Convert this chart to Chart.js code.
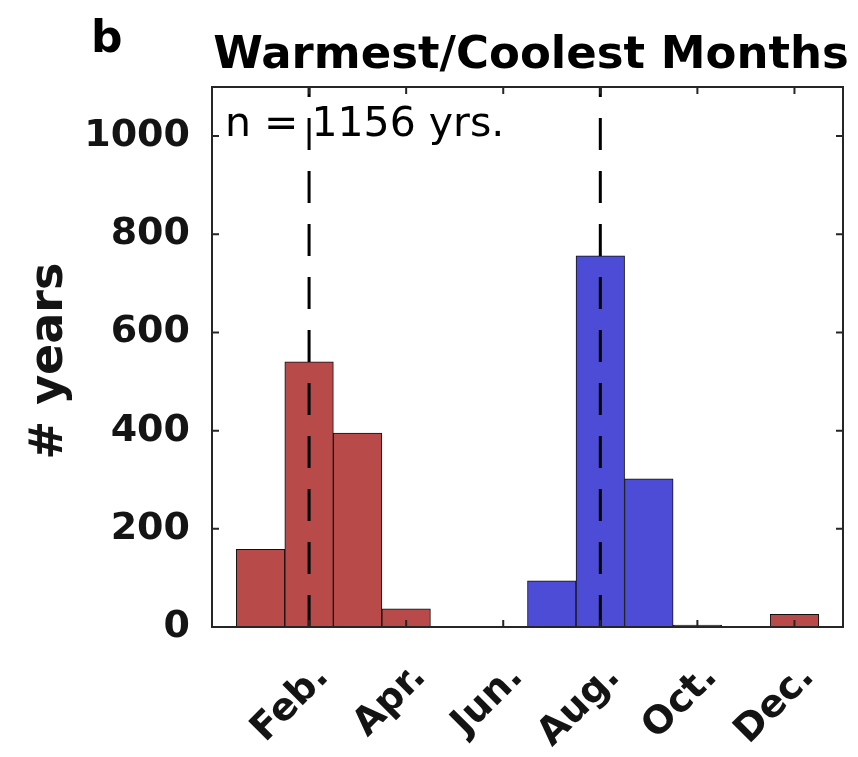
<!DOCTYPE html>
<html>
<head>
<meta charset="utf-8">
<script src="https://cdn.jsdelivr.net/npm/chart.js@4/dist/chart.umd.min.js"></script>
<style>
  html, body { margin: 0; padding: 0; background: #fff; }
  canvas { display: block; }
</style>
</head>
<body>
<canvas id="c" width="858" height="757"></canvas>
<script>
// month histogram: warmest months in red, coolest in blue
const months = ['Jan.', 'Feb.', 'Mar.', 'Apr.', 'May', 'Jun.', 'Jul.', 'Aug.', 'Sep.', 'Oct.', 'Nov.', 'Dec.'];
const warmest = [158, 540, 395, 37, 0, 0, 0, 0, 0, 0, 0, 26];
const coolest = [0, 0, 0, 0, 0, 0, 94, 756, 302, 4, 0, 0];
const xTicks = [2, 4, 6, 8, 10, 12];
const yTicks = [0, 200, 400, 600, 800, 1000];
const dashAt = [2, 8];      // mean warmest / coolest month
const yMax = 1100;
const nYears = 1156;

const FONT = '"DejaVu Sans", sans-serif';
const INK = '#141414';

function bars(vals) {
  return vals.map((v, i) => ({ x: i + 1, y: v === 0 ? null : v }));
}

function vline(m) {
  return {
    type: 'line', order: 1,
    data: [{ x: m, y: 0 }, { x: m, y: yMax }],
    borderColor: '#000', borderWidth: 3, borderDash: [32, 21],
    pointRadius: 0
  };
}

const frame = {
  id: 'frame',
  beforeDatasetsDraw(chart) {
    const ctx = chart.ctx;
    ctx.save();
    ctx.fillStyle = '#000';
    ctx.font = '41px ' + FONT;
    ctx.textAlign = 'left';
    ctx.textBaseline = 'alphabetic';
    ctx.fillText('n = ' + nYears + ' yrs.', 225, 136);
    ctx.restore();
  },
  afterDatasetsDraw(chart) {
    const ctx = chart.ctx;
    const { left, right, top, bottom } = chart.chartArea;
    const xs = chart.scales.x, ys = chart.scales.y;
    const tl = 7;
    ctx.save();
    ctx.strokeStyle = '#262626';
    ctx.lineWidth = 2;
    ctx.strokeRect(left, top, right - left, bottom - top);
    ctx.beginPath();
    xTicks.forEach(v => {
      const px = xs.getPixelForValue(v);
      ctx.moveTo(px, bottom); ctx.lineTo(px, bottom - tl);
      ctx.moveTo(px, top); ctx.lineTo(px, top + tl);
    });
    yTicks.forEach(v => {
      const py = ys.getPixelForValue(v);
      ctx.moveTo(left, py); ctx.lineTo(left + tl, py);
      ctx.moveTo(right, py); ctx.lineTo(right - tl, py);
    });
    ctx.stroke();
    ctx.restore();
  },
  afterDraw(chart) {
    const ctx = chart.ctx;
    ctx.save();
    ctx.fillStyle = '#000';
    ctx.textBaseline = 'alphabetic';

    ctx.font = 'bold 45px ' + FONT;
    ctx.textAlign = 'center';
    ctx.fillText('Warmest/Coolest Months', 531, 68);

    ctx.font = 'bold 44px ' + FONT;
    ctx.textAlign = 'left';
    ctx.fillText('b', 91, 52);

    ctx.fillStyle = INK;
    ctx.font = 'bold 46px ' + FONT;
    ctx.textAlign = 'center';
    ctx.translate(62, 361);
    ctx.rotate(-Math.PI / 2);
    ctx.fillText('# years', 0, 0);
    ctx.restore();
  }
};

const tickFont = { family: FONT, weight: 'bold', size: 38 };

new Chart(document.getElementById('c'), {
  type: 'bar',
  data: {
    datasets: [
      {
        label: 'warmest', order: 2, grouped: false,
        data: bars(warmest),
        backgroundColor: 'rgb(185,74,74)',
        borderColor: '#111', borderWidth: 1, borderSkipped: false,
        categoryPercentage: 1, barPercentage: 1
      },
      {
        label: 'coolest', order: 2, grouped: false,
        data: bars(coolest),
        backgroundColor: 'rgb(76,76,214)',
        borderColor: '#111', borderWidth: 1, borderSkipped: false,
        categoryPercentage: 1, barPercentage: 1
      },
      ...dashAt.map(vline)
    ]
  },
  options: {
    responsive: false,
    animation: false,
    layout: { padding: { top: 87, right: 15, left: 0, bottom: 0 } },
    plugins: { legend: { display: false }, tooltip: { enabled: false } },
    scales: {
      x: {
        type: 'linear', min: 0, max: 13, offset: false,
        grid: { display: false, offset: false }, border: { display: false },
        afterBuildTicks: s => { s.ticks = xTicks.map(v => ({ value: v })); },
        afterFit: s => { s.height = 130; s.paddingLeft = 0; s.paddingRight = 0; },
        ticks: {
          autoSkip: false, minRotation: 45, maxRotation: 45, padding: 20,
          labelOffset: 14,
          color: INK, font: tickFont,
          callback: v => months[v - 1]
        }
      },
      y: {
        type: 'linear', min: 0, max: yMax,
        grid: { display: false }, border: { display: false },
        afterBuildTicks: s => { s.ticks = yTicks.map(v => ({ value: v })); },
        afterFit: s => { s.width = 212; s.paddingTop = 0; s.paddingBottom = 0; },
        ticks: {
          padding: 14, color: INK, font: tickFont,
          callback: v => String(v)
        }
      }
    }
  },
  plugins: [frame]
});
</script>
</body>
</html>
